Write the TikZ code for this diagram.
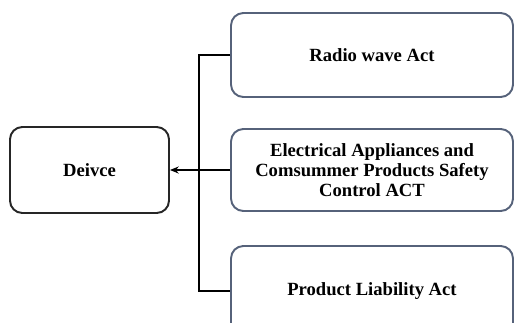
\documentclass[tikz,border=0pt]{standalone}
\usepackage{fontspec}
\setmainfont{Liberation Serif}
\usetikzlibrary{arrows.meta}
\definecolor{actline}{HTML}{56627A}
\tikzset{
  devbox/.style={draw=black!85,line width=1.1pt,rounded corners=7pt,
    minimum width=3.18cm,minimum height=1.72cm,align=center,
    font=\fontsize{10.6}{11.4}\selectfont\bfseries},
  actbox/.style={devbox,draw=actline,minimum width=5.64cm},
  link/.style={black,line width=0.8pt}
}
\begin{document}
\begin{tikzpicture}[x=0.02cm,y=-0.02cm]
  \useasboundingbox (0,0) rectangle (514,322);
  \clip (0,0) rectangle (514,322);
  \node[devbox] (dev) at (89.5,170) {Deivce};
  \node[actbox,minimum height=1.68cm] (radio) at (372,55) {Radio wave Act};
  \node[actbox,minimum height=1.64cm] (elec) at (372,170)
    {Electrical Appliances and\\Comsummer Products Safety\\Control ACT};
  \node[actbox,minimum height=1.8cm] (prod) at (372,291) {Product Liability Act};
  \draw[link] (radio.west) -- ++(-31,0) |- (prod.west);
  \draw[link,-{Stealth[length=5pt,width=4pt]}] (elec.west) -- (dev.east);
\end{tikzpicture}
\end{document}
